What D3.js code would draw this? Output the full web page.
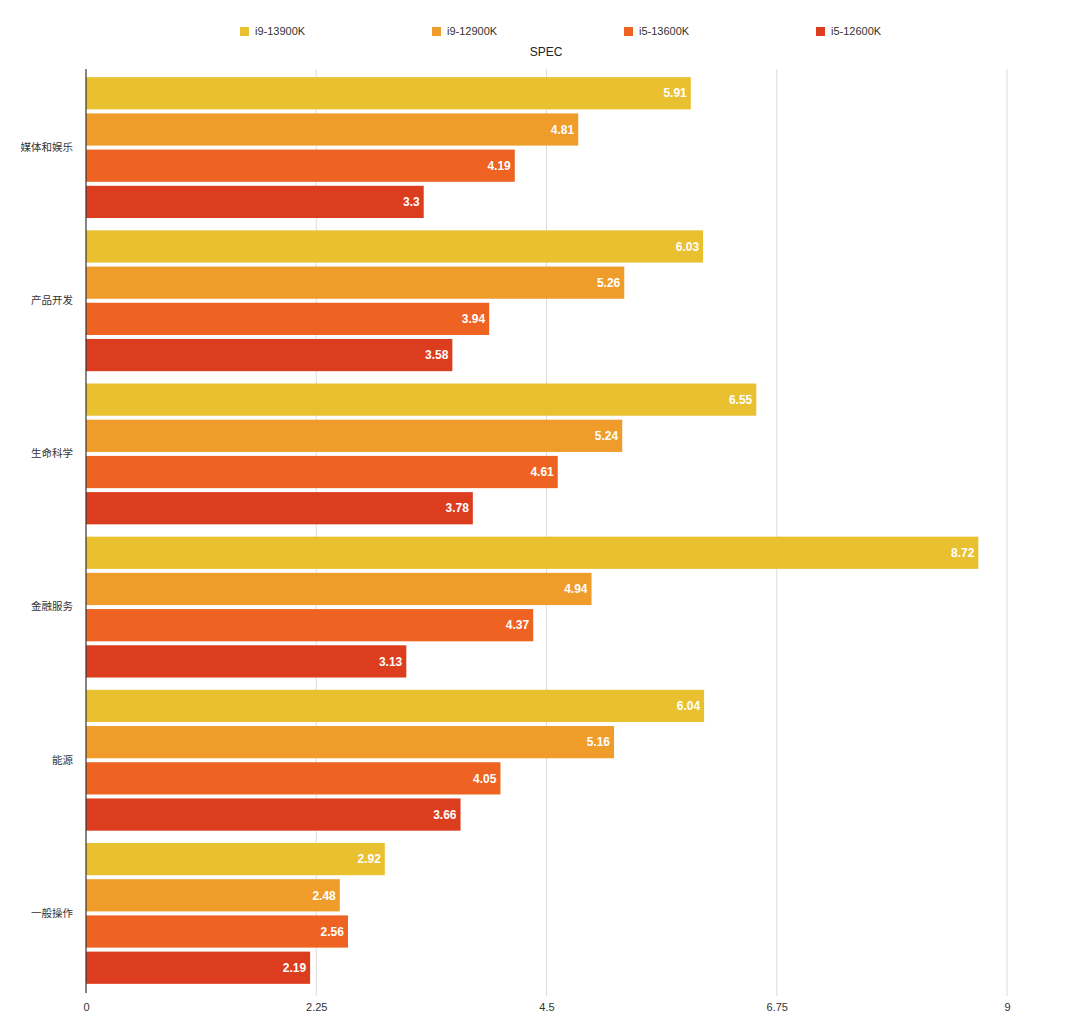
<!DOCTYPE html>
<html><head><meta charset="utf-8">
<script src="https://cdn.jsdelivr.net/npm/d3@7"></script>
<style>body{margin:0;background:#fff;}svg{display:block;}</style>
</head><body>
<svg id="chart" width="1080" height="1022"></svg>
<script>
const categories = ["媒体和娱乐","产品开发","生命科学","金融服务","能源","一般操作"];
const seriesNames = ["i9-13900K","i9-12900K","i5-13600K","i5-12600K"];
const s_i9_13900K = [5.91,6.03,6.55,8.72,6.04,2.92];
const s_i9_12900K = [4.81,5.26,5.24,4.94,5.16,2.48];
const s_i5_13600K = [4.19,3.94,4.61,4.37,4.05,2.56];
const s_i5_12600K = [3.3,3.58,3.78,3.13,3.66,2.19];
const seriesValues = [s_i9_13900K,s_i9_12900K,s_i5_13600K,s_i5_12600K];
const tickValues = [0,2.25,4.5,6.75,9];
const colors = ["#E9C130","#EF9C2B","#EE6321","#DC3D1E"];
const chartTitle = "SPEC";

(function(){
const svg = d3.select("#chart");
const font = "'Helvetica Neue', Arial, 'Liberation Sans', 'Noto Sans CJK SC', sans-serif";
const mLeft = 86, mRight = 1007, mTop = 71, mBottom = 990;

const x = d3.scaleLinear().domain([0,9]).range([mLeft,mRight]);
const y0 = d3.scaleBand().domain(categories).range([mTop,mBottom]).paddingInner(0).paddingOuter(0);
const y1 = d3.scaleBand().domain(seriesNames).range([0,y0.bandwidth()]).paddingInner(0.11).paddingOuter(0.17);

// grid
svg.append("g").selectAll("line").data(tickValues.slice(1)).join("line")
  .attr("x1",d=>x(d)).attr("x2",d=>x(d)).attr("y1",mTop-2).attr("y2",mBottom+6)
  .attr("stroke","#dcdcdc").attr("stroke-width",1);

// bars
const groups = svg.append("g").selectAll("g").data(categories).join("g")
  .attr("transform",c=>`translate(0,${y0(c)})`);
groups.each(function(c,ci){
  const g = d3.select(this);
  seriesNames.forEach((s,si)=>{
    const v = seriesValues[si][ci];
    g.append("rect").attr("x",x(0)).attr("y",y1(s)).attr("width",x(v)-x(0)).attr("height",y1.bandwidth())
      .attr("fill",colors[si]);
    g.append("text").attr("x",x(v)-4).attr("y",y1(s)+y1.bandwidth()/2).attr("dy","0.35em")
      .attr("text-anchor","end").attr("fill","#fff").attr("font-weight","bold")
      .attr("font-family",font).attr("font-size",12).text(v);
  });
});

// y axis
const yAxis = d3.axisLeft(y0).tickSize(0).tickPadding(13);
const ya = svg.append("g").attr("transform",`translate(${mLeft},0)`).call(yAxis);
ya.select(".domain").remove();
ya.selectAll("text").attr("font-family",font).attr("font-size",10.5).attr("fill","#333");
svg.append("line").attr("x1",mLeft).attr("x2",mLeft).attr("y1",mTop-2).attr("y2",mBottom+3)
  .attr("stroke","#333").attr("stroke-width",1.2);

// x axis
const xAxis = d3.axisBottom(x).tickValues(tickValues).tickSize(0).tickPadding(8).tickFormat(d=>String(d));
const xa = svg.append("g").attr("transform",`translate(0,${mBottom+5})`).call(xAxis);
xa.select(".domain").remove();
xa.selectAll("text").attr("font-family",font).attr("font-size",11).attr("fill","#333");

// legend
const leg = svg.append("g").selectAll("g").data(seriesNames).join("g")
  .attr("transform",(d,i)=>`translate(${240+i*192},27)`);
leg.append("rect").attr("width",9).attr("height",9).attr("fill",(d,i)=>colors[i]);
leg.append("text").attr("x",15).attr("y",4.5).attr("dy","0.35em").attr("font-family",font)
  .attr("font-size",11).attr("fill","#333").text(d=>d);

// title
svg.append("text").attr("x",546).attr("y",52).attr("dy","0.35em").attr("text-anchor","middle")
  .attr("font-family",font).attr("font-size",12).attr("fill","#222").text(chartTitle);
})();
</script>
</body></html>
